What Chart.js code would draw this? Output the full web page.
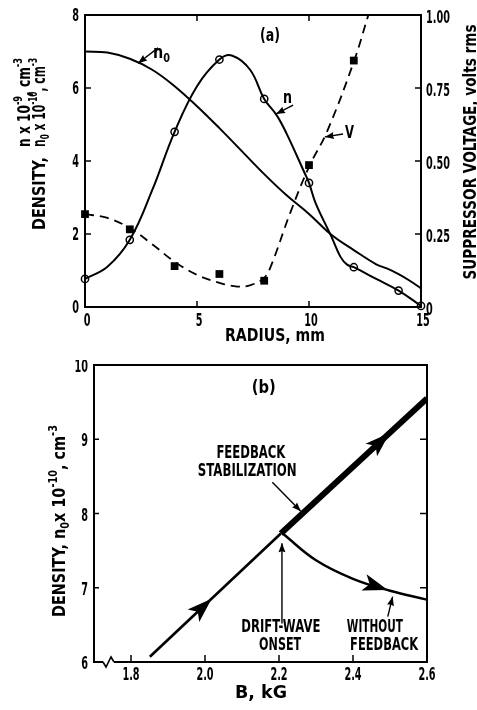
<!DOCTYPE html>
<html><head><meta charset="utf-8">
<script src="https://cdn.jsdelivr.net/npm/chart.js@4/dist/chart.umd.min.js"></script>
<style>
html,body{margin:0;padding:0;background:#fff;}
#wrap{position:relative;width:477px;height:710px;overflow:hidden;background:#fff;}
canvas{position:absolute;left:0;}
</style></head><body>
<div id="wrap">
<canvas id="c1" width="477" height="360" style="top:0"></canvas>
<canvas id="c2" width="477" height="350" style="top:360px"></canvas>
</div>
<script>
// ---------- Panel (a) data ----------
const radiusTicks = [0, 5, 10, 15];
const densityTicks = [0, 2, 4, 6, 8];
const voltTicks = [0, 0.25, 0.5, 0.75, 1.0];
const voltTickLabels = ['0', '0.25', '0.50', '0.75', '1.00'];

const nRadius = [0, 2, 4, 6, 8, 10, 12, 14, 15];
const nValues = [0.77, 1.84, 4.8, 6.78, 5.7, 3.4, 1.09, 0.45, 0.03];
const nCurveR = [0, 1, 2, 3, 4, 5, 6, 6.55, 7.37, 8, 8.56, 9, 9.82, 10, 10.3, 11, 11.4, 11.7, 12, 13, 14, 15];
const nCurveV = [0.77, 1.1, 1.84, 3.2, 4.8, 6.05, 6.78, 6.89, 6.5, 5.7, 5.25, 4.75, 3.65, 3.4, 2.84, 1.93, 1.38, 1.16, 1.09, 0.77, 0.45, 0.03];

const n0R = [0, 1, 2, 3, 4, 5, 6, 7, 8, 9, 10, 11, 12, 13, 13.5, 14, 14.5, 15];
const n0V = [7.0, 6.97, 6.8, 6.5, 6.05, 5.5, 4.9, 4.27, 3.64, 3.06, 2.55, 1.98, 1.56, 1.17, 1.05, 0.9, 0.72, 0.51];

const vRadius = [0, 2, 4, 6, 8, 10, 12];
const vValues = [0.318, 0.266, 0.14, 0.113, 0.09, 0.486, 0.844];
const vCurveR = [0, 1, 2, 3, 4, 5, 6, 6.8, 7.4, 8, 8.3, 9.15, 10, 10.8, 12, 12.65];
const vCurveV = [0.318, 0.305, 0.27, 0.215, 0.155, 0.11, 0.083, 0.07, 0.075, 0.1, 0.14, 0.32, 0.48, 0.6, 0.84, 1.0];

// ---------- Panel (b) data ----------
const bTicks = [1.8, 2.0, 2.2, 2.4, 2.6];
const bTickLabels = ['1.8', '2.0', '2.2', '2.4', '2.6'];
const dTicks = [6, 7, 8, 9, 10];
const riseB = [1.851, 2.205];
const riseN = [6.07, 7.73];
const stabB = [2.205, 2.6];
const stabN = [7.73, 9.55];
const noFbB = [2.21, 2.3, 2.4, 2.5, 2.6];
const noFbN = [7.73, 7.37, 7.12, 6.96, 6.84];
const arrowTipB = [2.018, 2.499, 2.494]; // rise, stabilized, without feedback

const FONT = "'DejaVu Sans', sans-serif";
const TICK_SIZE = 17, TICK_SX = 0.57;

function pts(xs, ys) { return xs.map((x, i) => ({ x: x, y: ys[i] })); }

function rich(ctx, segs, x, y, o) {
  const size = o.size || 18, rot = o.rot || 0, align = o.align || 'left';
  const parts = segs.map(([t, m]) => {
    const fs = m ? size * 0.68 : size;
    ctx.font = 'bold ' + fs + 'px ' + FONT;
    return { t: t, m: m, fs: fs, w: ctx.measureText(t).width };
  });
  const total = parts.reduce((a, p) => a + p.w, 0);
  const sx = o.fit ? o.fit / total : (o.sx || 1);
  ctx.save();
  ctx.translate(x, y);
  ctx.rotate(rot);
  ctx.scale(sx, 1);
  let cx = align === 'center' ? -total / 2 : (align === 'right' ? -total : 0);
  ctx.textBaseline = 'alphabetic'; ctx.textAlign = 'left'; ctx.fillStyle = '#000';
  for (const p of parts) {
    ctx.font = 'bold ' + p.fs + 'px ' + FONT;
    const dy = p.m === '^' ? -size * 0.42 : (p.m === '_' ? size * 0.24 : 0);
    ctx.fillText(p.t, cx, dy);
    cx += p.w;
  }
  ctx.restore();
}

function tickText(ctx, t, x, y, align) {
  rich(ctx, [[t, '']], x, y + TICK_SIZE * 0.365, { align: align, sx: TICK_SX, size: TICK_SIZE });
}

function seg(ctx, x1, y1, x2, y2) { ctx.beginPath(); ctx.moveTo(x1, y1); ctx.lineTo(x2, y2); ctx.stroke(); }

function arrowHead(ctx, tx, ty, dx, dy, len, hw, notch) {
  const L = Math.hypot(dx, dy), ux = dx / L, uy = dy / L, nx = -uy, ny = ux;
  const bx = tx - ux * len, by = ty - uy * len;
  ctx.beginPath();
  ctx.moveTo(tx, ty);
  ctx.lineTo(bx + nx * hw, by + ny * hw);
  ctx.lineTo(tx - ux * (len - notch), ty - uy * (len - notch));
  ctx.lineTo(bx - nx * hw, by - ny * hw);
  ctx.closePath(); ctx.fill();
}

function pointer(ctx, xs, ys, x1, y1, x2, y2) {
  const p1x = xs.getPixelForValue(x1), p1y = ys.getPixelForValue(y1);
  const p2x = xs.getPixelForValue(x2), p2y = ys.getPixelForValue(y2);
  ctx.lineWidth = 1.4;
  seg(ctx, p1x, p1y, p2x, p2y);
  arrowHead(ctx, p2x, p2y, p2x - p1x, p2y - p1y, 9, 3.5, 1);
}

const hiddenTicks = { display: false };

// ---------- Panel (a) ----------
const plugA = {
  id: 'plugA',
  afterDraw(chart) {
    const ctx = chart.ctx, a = chart.chartArea;
    const xs = chart.scales.x, ys = chart.scales.y, y2 = chart.scales.y2;
    ctx.save();
    ctx.strokeStyle = '#000'; ctx.fillStyle = '#000';
    ctx.lineWidth = 2;
    ctx.strokeRect(a.left, a.top, a.right - a.left, a.bottom - a.top);
    ctx.lineWidth = 1.5;
    radiusTicks.forEach(v => {
      const px = xs.getPixelForValue(v);
      if (v > xs.min && v < xs.max) {
        seg(ctx, px, a.bottom, px, a.bottom - 6);
        seg(ctx, px, a.top, px, a.top + 6);
      }
      tickText(ctx, String(v), px + 2, a.bottom + 13, 'center');
    });
    densityTicks.forEach(v => {
      const py = ys.getPixelForValue(v);
      if (v > ys.min && v < ys.max) seg(ctx, a.left, py, a.left + 6, py);
      tickText(ctx, String(v), a.left - 6, py, 'right');
    });
    voltTicks.forEach((v, i) => {
      const py = y2.getPixelForValue(v);
      if (v > y2.min && v < y2.max) seg(ctx, a.right, py, a.right - 6, py);
      tickText(ctx, voltTickLabels[i], a.right + 5, py + 2, 'left');
    });
    // axis titles
    rich(ctx, [['RADIUS, mm', '']], 275, 341, { align: 'center', fit: 100, size: 18 });
    rich(ctx, [['DENSITY,', '']], 45, 230, { rot: -Math.PI / 2, fit: 73, size: 18 });
    rich(ctx, [['n x 10', ''], ['-9', '^'], [', cm', ''], ['-3', '^']], 30, 147, { rot: -Math.PI / 2, fit: 89, size: 18 });
    rich(ctx, [['n', ''], ['0', '_'], [' x 10', ''], ['-10', '^'], [', cm', ''], ['-3', '^']], 45, 147, { rot: -Math.PI / 2, fit: 89, size: 18 });
    rich(ctx, [['SUPPRESSOR VOLTAGE, volts rms', '']], 476, 152, { rot: -Math.PI / 2, align: 'center', fit: 255, size: 18 });
    // annotations
    rich(ctx, [['(a)', '']], xs.getPixelForValue(8.26), ys.getPixelForValue(7.29), { align: 'center', fit: 20, size: 18 });
    rich(ctx, [['n', ''], ['0', '_']], xs.getPixelForValue(3.04), ys.getPixelForValue(6.82), { fit: 17, size: 18 });
    rich(ctx, [['n', '']], xs.getPixelForValue(8.84), ys.getPixelForValue(5.59), { fit: 9, size: 18 });
    rich(ctx, [['V', '']], xs.getPixelForValue(11.61), ys.getPixelForValue(4.63), { fit: 9, size: 18 });
    pointer(ctx, xs, ys, 3.26, 7.10, 2.37, 6.68);
    pointer(ctx, xs, ys, 9.29, 5.53, 8.53, 5.29);
    pointer(ctx, xs, ys, 11.52, 4.74, 10.71, 4.66);
    ctx.restore();
  }
};

new Chart(document.getElementById('c1'), {
  type: 'scatter',
  data: {
    datasets: [
      { data: pts(n0R, n0V), showLine: true, borderColor: '#000', borderWidth: 2, pointRadius: 0, tension: 0.4, yAxisID: 'y' },
      { data: pts(nCurveR, nCurveV), showLine: true, borderColor: '#000', borderWidth: 2, pointRadius: 0, tension: 0.4, yAxisID: 'y' },
      { data: pts(vCurveR, vCurveV), showLine: true, borderColor: '#000', borderWidth: 1.8, borderDash: [9, 6], pointRadius: 0, tension: 0.4, yAxisID: 'y2' },
      { data: pts(vRadius, vValues), showLine: false, pointStyle: 'rect', pointRadius: 5.5, backgroundColor: '#000', borderWidth: 0, yAxisID: 'y2', clip: false },
      { data: pts(nRadius, nValues), showLine: false, pointStyle: 'circle', pointRadius: 3.6, backgroundColor: '#fff', borderColor: '#000', borderWidth: 1.5, yAxisID: 'y', clip: false }
    ]
  },
  options: {
    responsive: false, animation: false, devicePixelRatio: 1, events: [],
    layout: { padding: { top: 15, left: 0, right: 0, bottom: 0 } },
    plugins: { legend: { display: false }, tooltip: { enabled: false } },
    scales: {
      x: {
        type: 'linear', min: 0, max: 15,
        afterBuildTicks: s => { s.ticks = radiusTicks.map(v => ({ value: v })); },
        afterFit: s => { s.height = 53; },
        grid: { display: false, drawTicks: false }, border: { display: false }, ticks: hiddenTicks
      },
      y: {
        type: 'linear', position: 'left', min: 0, max: 8,
        afterBuildTicks: s => { s.ticks = densityTicks.map(v => ({ value: v })); },
        afterFit: s => { s.width = 85; },
        grid: { display: false, drawTicks: false }, border: { display: false }, ticks: hiddenTicks
      },
      y2: {
        type: 'linear', position: 'right', min: 0, max: 1,
        afterBuildTicks: s => { s.ticks = voltTicks.map(v => ({ value: v })); },
        afterFit: s => { s.width = 56; },
        grid: { display: false, drawTicks: false }, border: { display: false }, ticks: hiddenTicks
      }
    }
  },
  plugins: [plugA]
});

// ---------- Panel (b) ----------
function interp(xsArr, ysArr, x) {
  for (let i = 0; i < xsArr.length - 1; i++) {
    if (x >= xsArr[i] && x <= xsArr[i + 1]) {
      const t = (x - xsArr[i]) / (xsArr[i + 1] - xsArr[i]);
      return ysArr[i] + t * (ysArr[i + 1] - ysArr[i]);
    }
  }
  return ysArr[ysArr.length - 1];
}

const plugB = {
  id: 'plugB',
  afterDraw(chart) {
    const ctx = chart.ctx, a = chart.chartArea;
    const xs = chart.scales.x, ys = chart.scales.y;
    ctx.save();
    ctx.strokeStyle = '#000'; ctx.fillStyle = '#000';
    ctx.lineWidth = 2;
    ctx.beginPath();
    ctx.moveTo(a.left + 9, a.bottom);
    ctx.lineTo(a.left, a.bottom);
    ctx.lineTo(a.left, a.top);
    ctx.lineTo(a.right, a.top);
    ctx.lineTo(a.right, a.bottom);
    ctx.lineTo(a.left + 20, a.bottom);
    ctx.stroke();
    // axis break
    ctx.lineWidth = 1.6;
    ctx.beginPath();
    ctx.moveTo(a.left + 9, a.bottom);
    ctx.lineTo(a.left + 12, a.bottom + 5);
    ctx.lineTo(a.left + 17, a.bottom - 5);
    ctx.lineTo(a.left + 20, a.bottom);
    ctx.stroke();
    ctx.lineWidth = 1.5;
    bTicks.forEach((v, i) => {
      const px = xs.getPixelForValue(v);
      if (v > xs.min && v < xs.max) seg(ctx, px, a.bottom, px, a.bottom - 7);
      tickText(ctx, bTickLabels[i], px, a.bottom + 12, 'center');
    });
    dTicks.forEach(v => {
      const py = ys.getPixelForValue(v);
      if (v > ys.min && v < ys.max) {
        seg(ctx, a.right, py, a.right - 7, py);
        seg(ctx, a.left, py, a.left + 5, py);
      }
      tickText(ctx, String(v), a.left - 6, py + 1, 'right');
    });
    // arrowheads on the curves
    const lines = [[riseB, riseN], [stabB, stabN], [noFbB, noFbN]];
    arrowTipB.forEach((b, i) => {
      const [lx, ly] = lines[i];
      const n = interp(lx, ly, b);
      const b0 = b - 0.03, n0 = interp(lx, ly, b0);
      const tx = xs.getPixelForValue(b), ty = ys.getPixelForValue(n);
      const dx = tx - xs.getPixelForValue(b0), dy = ty - ys.getPixelForValue(n0);
      arrowHead(ctx, tx, ty, dx, dy, 25, 8.5, 6);
    });
    // titles
    rich(ctx, [['B, kG', '']], 261, 338, { align: 'center', fit: 52, size: 18 });
    rich(ctx, [['DENSITY, n', ''], ['0', '_'], ['x 10', ''], ['-10', '^'], [', cm', ''], ['-3', '^']], 65, 257, { rot: -Math.PI / 2, fit: 192, size: 18 });
    // annotations
    const lab = (t, b, n, w) => rich(ctx, [[t, '']], xs.getPixelForValue(b), ys.getPixelForValue(n), { align: 'center', fit: w, size: 17 });
    lab('(b)', 2.159, 9.62, 24);
    lab('FEEDBACK', 2.124, 8.75, 69);
    lab('STABILIZATION', 2.114, 8.51, 99);
    lab('DRIFT-WAVE', 2.205, 6.40, 79);
    lab('ONSET', 2.203, 6.16, 42);
    lab('WITHOUT', 2.459, 6.40, 56);
    lab('FEEDBACK', 2.484, 6.16, 68);
    pointer(ctx, xs, ys, 2.182, 8.42, 2.259, 8.03);
    pointer(ctx, xs, ys, 2.208, 6.52, 2.208, 7.60);
    pointer(ctx, xs, ys, 2.494, 6.61, 2.507, 6.88);
    ctx.restore();
  }
};

new Chart(document.getElementById('c2'), {
  type: 'scatter',
  data: {
    datasets: [
      { data: pts(riseB, riseN), showLine: true, borderColor: '#000', borderWidth: 2.6, pointRadius: 0 },
      { data: pts(noFbB, noFbN), showLine: true, borderColor: '#000', borderWidth: 2.4, pointRadius: 0, tension: 0.4 },
      { data: pts(stabB, stabN), showLine: true, borderColor: '#000', borderWidth: 6, pointRadius: 0 }
    ]
  },
  options: {
    responsive: false, animation: false, devicePixelRatio: 1, events: [],
    layout: { padding: { top: 5, left: 0, right: 50, bottom: 0 } },
    plugins: { legend: { display: false }, tooltip: { enabled: false } },
    scales: {
      x: {
        type: 'linear', min: 1.7, max: 2.6,
        afterBuildTicks: s => { s.ticks = bTicks.map(v => ({ value: v })); },
        afterFit: s => { s.height = 48; },
        grid: { display: false, drawTicks: false }, border: { display: false }, ticks: hiddenTicks
      },
      y: {
        type: 'linear', position: 'left', min: 6, max: 10,
        afterBuildTicks: s => { s.ticks = dTicks.map(v => ({ value: v })); },
        afterFit: s => { s.width = 94; },
        grid: { display: false, drawTicks: false }, border: { display: false }, ticks: hiddenTicks
      }
    }
  },
  plugins: [plugB]
});
</script>
</body></html>
